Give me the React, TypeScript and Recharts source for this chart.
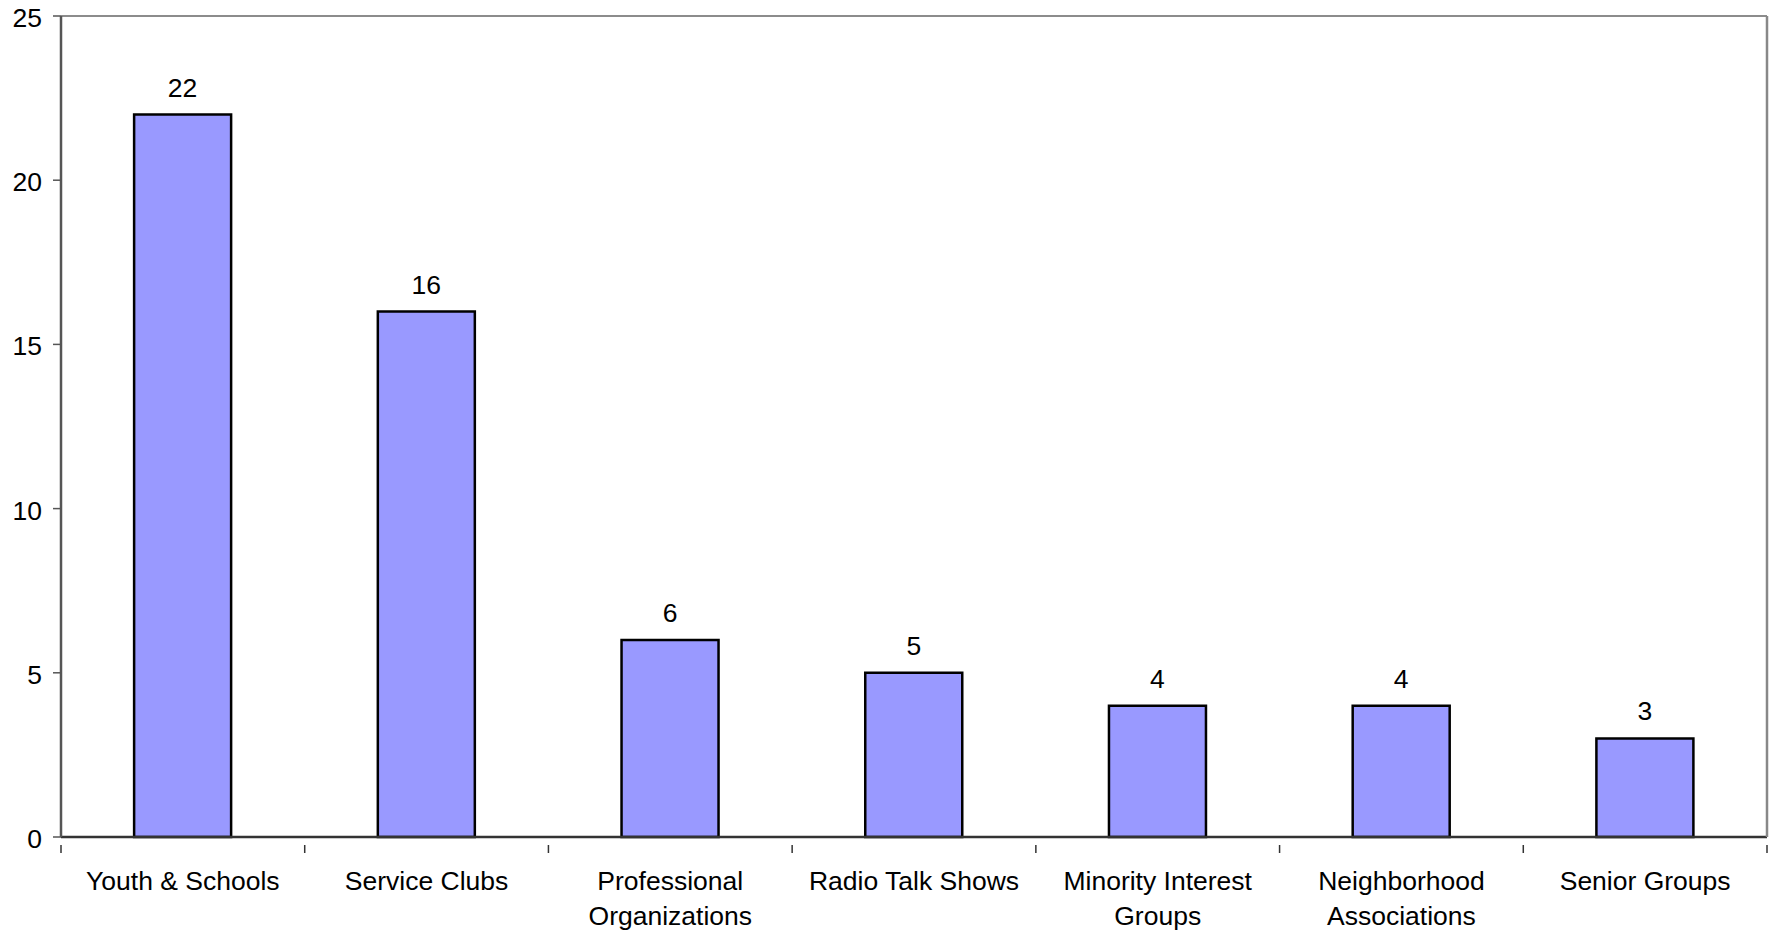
import { Bar, BarChart, CartesianGrid, LabelList, XAxis, YAxis } from 'recharts'

const categories = [
  'Youth & Schools',
  'Service Clubs',
  'Professional\nOrganizations',
  'Radio Talk Shows',
  'Minority Interest\nGroups',
  'Neighborhood\nAssociations',
  'Senior Groups',
]
const counts = [22, 16, 6, 5, 4, 4, 3]
const yTicks = [0, 5, 10, 15, 20, 25]

const data = categories.map((name, i) => ({ name, count: counts[i] }))

const W = 1771
const H = 935
const MARGIN = { top: 16, right: 0, bottom: 0, left: 0 }
const Y_WIDTH = 61
const RIGHT_WIDTH = 4
const X_HEIGHT = 98
const FONT = 'Arial, "Liberation Sans", sans-serif'
const band = (W - Y_WIDTH - RIGHT_WIDTH) / categories.length

function CategoryTick(props: any) {
  const { x, y, payload, index } = props
  const lines = String(payload.value).split('\n')
  const last = index === categories.length - 1
  return (
    <g>
      <line x1={x - band / 2} x2={x - band / 2} y1={y} y2={y + 8} stroke="#333" strokeWidth={1.5} />
      {last && <line x1={x + band / 2} x2={x + band / 2} y1={y} y2={y + 8} stroke="#333" strokeWidth={1.5} />}
      <text x={x} y={y + 45} textAnchor="middle" fontFamily={FONT} fontSize={26.5} fill="#000">
        {lines.map((line, i) => (
          <tspan key={i} x={x} dy={i === 0 ? 0 : 35}>
            {line}
          </tspan>
        ))}
      </text>
    </g>
  )
}

function ValueTick(props: any) {
  const { x, y, payload } = props
  return (
    <text x={x} y={y + 11} textAnchor="end" fontFamily={FONT} fontSize={26.5} fill="#000">
      {payload.value}
    </text>
  )
}

export default function App() {
  return (
    <div style={{ position: 'absolute', left: 0, top: 0, width: W, height: H, background: '#fff' }}>
      <BarChart width={W} height={H} data={data} margin={MARGIN} barCategoryGap="30%">
        <CartesianGrid horizontal vertical={false} stroke="#666" strokeWidth={1.5} />
        <XAxis
          dataKey="name"
          height={X_HEIGHT}
          interval={0}
          axisLine={{ stroke: '#333', strokeWidth: 2.5 }}
          tickLine={false}
          tick={<CategoryTick />}
        />
        <YAxis
          yAxisId="left"
          width={Y_WIDTH}
          domain={[0, 25]}
          ticks={yTicks}
          interval={0}
          axisLine={{ stroke: '#555', strokeWidth: 2.5 }}
          tickLine={{ stroke: '#555', strokeWidth: 1.5 }}
          tickSize={8}
          tickMargin={11}
          tick={<ValueTick />}
        />
        <YAxis
          yAxisId="right"
          orientation="right"
          width={RIGHT_WIDTH}
          domain={[0, 25]}
          tick={false}
          tickLine={false}
          axisLine={{ stroke: '#888', strokeWidth: 2.5 }}
        />
        <Bar
          yAxisId="left"
          dataKey="count"
          fill="#9999FF"
          stroke="#000"
          strokeWidth={2.5}
          isAnimationActive={false}
        >
          <LabelList
            dataKey="count"
            position="top"
            offset={18}
            fontFamily={FONT}
            fontSize={26.5}
            fill="#000"
          />
        </Bar>
      </BarChart>
    </div>
  )
}
